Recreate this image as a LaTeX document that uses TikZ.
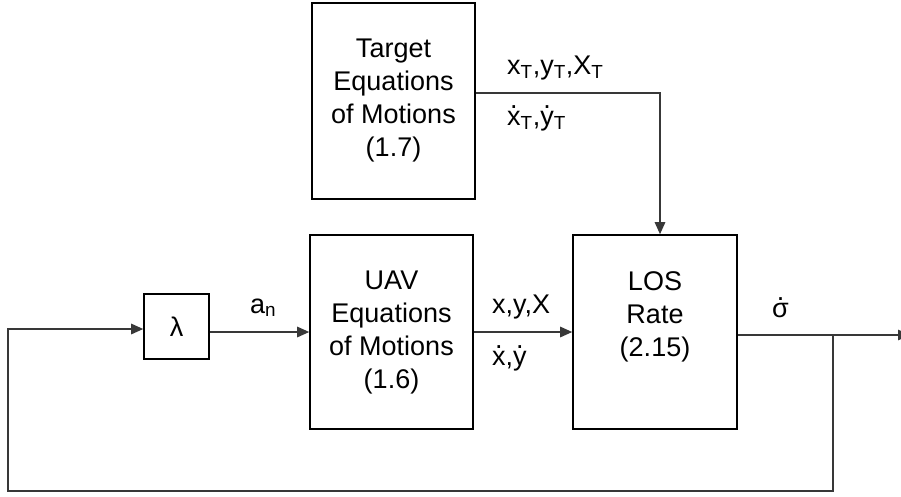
\documentclass[tikz,border=0pt]{standalone}
\usepackage{fontspec}
\setmainfont{Liberation Sans}
\usetikzlibrary{arrows.meta,calc}
% dot accent placed over a glyph
\newcommand\dotacc[1]{{\ooalign{#1\cr\hidewidth\raisebox{0.6em}{.}\hidewidth\cr}}}
\begin{document}
\begin{tikzpicture}[x=1pt,y=-1pt,
  txt/.style={font=\fontsize{27}{33}\selectfont},
  block/.style={txt,draw=black,line width=1.6pt,fill=white,align=center,inner sep=0pt},
  conn/.style={draw=black!78,line width=1.3pt},
  arr/.style={conn,-{Triangle[length=12pt,width=10.5pt]}},
  lbl/.style={txt,anchor=base west,inner sep=0pt}]
\useasboundingbox (0,0) rectangle (901,496);

% blocks
\node[block,minimum width=163pt,minimum height=196pt] (target) at (393.5,101)
  {Target\\Equations\\of Motions\\(1.7)};
\node[block,minimum width=163pt,minimum height=194pt] (uav) at (391.5,332)
  {UAV\\Equations\\of Motions\\(1.6)};
\node[block,minimum width=164pt,minimum height=194pt] (los) at (655,332) {};
\node[txt,align=center] (lostext) at (655,317) {LOS\\Rate\\(2.15)};
\node[block,minimum width=65pt,minimum height=65pt] (lam) at (176.5,326.5) {λ};

% connection points
\coordinate (tin) at ($(los.north)+(5,0)$);
\coordinate (tout) at ($(target.east)+(0,-8)$);
\coordinate (sout) at ($(los.east)+(0,3)$);
\coordinate (tap) at (833,335);
\coordinate (fbL) at (8,491);
\coordinate (lamin) at ($(lam.west)+(0,2.5)$);
\coordinate (out) at (910,335);

% connectors
\draw[arr] (tout) -| (tin);
\draw[arr] (lam.east |- uav.west) -- (uav.west);
\draw[arr] (uav.east) -- (los.west);
\draw[arr] (sout) -- (out);
\draw[arr] (tap) |- (fbL) |- (lamin);

% signal labels
\node[lbl] (l1) at (507,74) {x\textsubscript{T},y\textsubscript{T},X\textsubscript{T}};
\node[lbl] (l2) at (507,125) {\dotacc{x}\textsubscript{T},\dotacc{y}\textsubscript{T}};
\node[lbl] (l3) at (492,313) {x,y,X};
\node[lbl] (l4) at (492,365) {\dotacc{x},\dotacc{y}};
\node[lbl] (l5) at (250,313) {a\textsubscript{n}};
\node[lbl] (l6) at (772,317) {\dotacc{σ}};
\end{tikzpicture}
\end{document}
